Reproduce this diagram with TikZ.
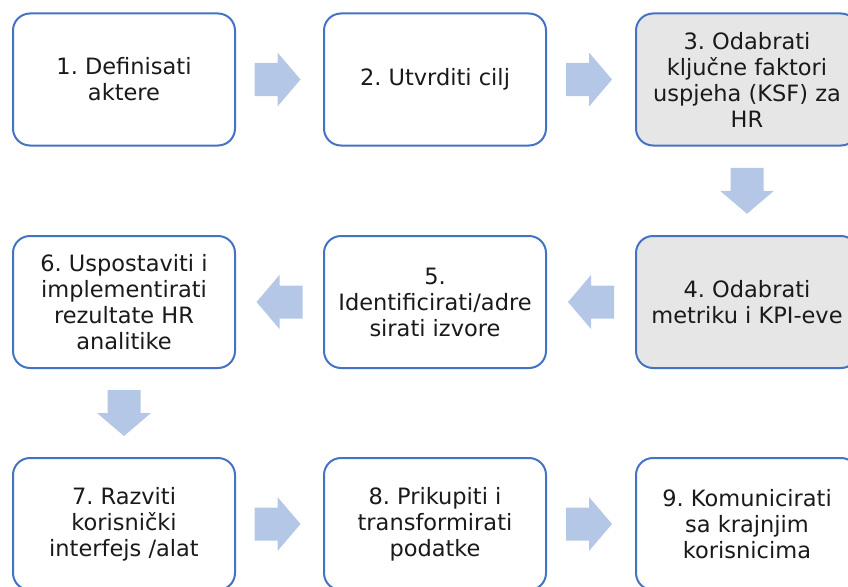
\documentclass[tikz,border=0pt]{standalone}
\usepackage{fontspec}
\setmainfont{DejaVu Sans}
\frenchspacing
\usetikzlibrary{calc}
\definecolor{boxblue}{HTML}{4472C4}
\definecolor{boxgray}{HTML}{E7E6E6}
\definecolor{arrowblue}{HTML}{B4C7E7}
\definecolor{txt}{HTML}{1A1A1A}
\tikzset{
  box/.style={draw=boxblue, line width=2pt, rounded corners=17pt, fill=white,
    minimum width=222pt, minimum height=132pt, align=center, inner sep=0pt,
    text=txt, font=\fontsize{22.5}{26}\selectfont},
  graybox/.style={box, fill=boxgray},
  blockarrow/.pic={\fill[arrowblue] (-23,-16.5) -- (0,-16.5) -- (0,-27) -- (23,0) -- (0,27) -- (0,16.5) -- (-23,16.5) -- cycle;}
}
\begin{document}
\begin{tikzpicture}[x=1pt,y=-1pt]
\useasboundingbox (0,0) rectangle (848,586);
\clip (0,0) rectangle (848,586);
\node[box] (b1) at (124,79.5) {1. Definisati\\aktere};
\node[box] (b2) at (435,79.5) {2. Utvrditi cilj};
\node[graybox] (b3) at (747,79.5) {3. Odabrati\\ključne faktori\\uspjeha (KSF) za\\HR};
\node[graybox] (b4) at (747,302) {4. Odabrati\\metriku i KPI-eve};
\node[box] (b5) at (435,302) {5.\\Identificirati/adre\\sirati izvore};
\node[box] (b6) at (124,302) {6. Uspostaviti i\\implementirati\\rezultate HR\\analitike};
\node[box] (b7) at (124,524) {7. Razviti\\korisnički\\interfejs /alat};
\node[box] (b8) at (435,524) {8. Prikupiti i\\transformirati\\podatke};
\node[box] (b9) at (747,524) {9. Komunicirati\\sa krajnjim\\korisnicima};
\pic at ($(b1.east)!0.5!(b2.west)+(-2,0)$) {blockarrow};
\pic at ($(b2.east)!0.5!(b3.west)+(-2,0)$) {blockarrow};
\pic[rotate=-90] at ($(b3.south)!0.5!(b4.north)$) {blockarrow};
\pic[rotate=180] at ($(b4.west)!0.5!(b5.east)$) {blockarrow};
\pic[rotate=180] at ($(b5.west)!0.5!(b6.east)$) {blockarrow};
\pic[rotate=-90] at ($(b6.south)!0.5!(b7.north)$) {blockarrow};
\pic at ($(b7.east)!0.5!(b8.west)+(-2,0)$) {blockarrow};
\pic at ($(b8.east)!0.5!(b9.west)+(-2,0)$) {blockarrow};
\end{tikzpicture}
\end{document}
